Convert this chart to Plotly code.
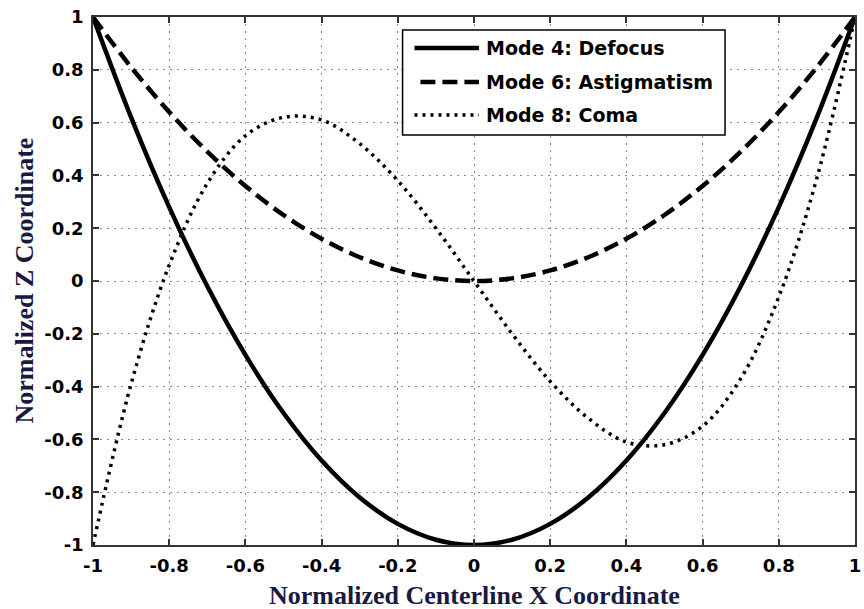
import plotly.graph_objects as go

# Normalized centerline profiles of three mirror modes
x_coord = [-1.0, -0.9, -0.8, -0.7, -0.6, -0.5, -0.4, -0.3, -0.2, -0.1, 0.0,
           0.1, 0.2, 0.3, 0.4, 0.5, 0.6, 0.7, 0.8, 0.9, 1.0]
defocus = [1.0, 0.62, 0.28, -0.02, -0.28, -0.5, -0.68, -0.82, -0.92, -0.98, -1.0,
           -0.98, -0.92, -0.82, -0.68, -0.5, -0.28, -0.02, 0.28, 0.62, 1.0]
astigmatism = [1.0, 0.81, 0.64, 0.49, 0.36, 0.25, 0.16, 0.09, 0.04, 0.01, 0.0,
               0.01, 0.04, 0.09, 0.16, 0.25, 0.36, 0.49, 0.64, 0.81, 1.0]
coma = [-1.0, -0.39, 0.06, 0.37, 0.55, 0.62, 0.61, 0.52, 0.38, 0.2, 0.0,
        -0.2, -0.38, -0.52, -0.61, -0.62, -0.55, -0.37, -0.06, 0.39, 1.0]

tick_vals = [-1, -0.8, -0.6, -0.4, -0.2, 0, 0.2, 0.4, 0.6, 0.8, 1]
tick_text = ["-1", "-0.8", "-0.6", "-0.4", "-0.2", "0", "0.2", "0.4", "0.6", "0.8", "1"]

series_names = ["Mode 4: Defocus", "Mode 6: Astigmatism", "Mode 8: Coma"]
series_dash = ["solid", "15px,7px", "3px,5px"]
series_width = [4.5, 4.5, 3.5]

W, H = 864, 609
L, R, T, B = 93, 861, 17, 545


def px(xp):
    return (xp - L) / (R - L)


def py(yp):
    return (B - yp) / (B - T)


fig = go.Figure()
for name, ys, dash, w in zip(series_names, [defocus, astigmatism, coma], series_dash, series_width):
    fig.add_trace(go.Scatter(
        x=x_coord, y=ys, mode="lines", name=name,
        line=dict(color="black", width=w, dash=dash, shape="spline", smoothing=1.0),
        showlegend=False,
    ))

tick_font = dict(family="DejaVu Sans", size=18, color="black", weight="bold")
axis_common = dict(
    range=[-1, 1], tickvals=tick_vals, ticktext=tick_text,
    ticks="inside", ticklen=6, tickwidth=1.5, tickcolor="#333333",
    showline=True, linecolor="#333333", linewidth=1.5, mirror="allticks",
    showgrid=True, gridcolor="#8a8a8a", gridwidth=1, griddash="2px,5px",
    zeroline=False, tickfont=tick_font, ticklabeloverflow="allow",
)
fig.update_xaxes(**axis_common, ticklabelstandoff=4)
fig.update_yaxes(**axis_common, ticklabelstandoff=4)

title_font = dict(family="Liberation Serif", size=26, color="#1a1a40", weight="bold")
annotations = [
    dict(text="Normalized Centerline X Coordinate", xref="paper", yref="paper",
         x=0.5, y=py(595), xanchor="center", yanchor="middle",
         showarrow=False, font=title_font),
    dict(text="Normalized Z Coordinate", xref="paper", yref="paper",
         x=px(23), y=0.5, xanchor="center", yanchor="middle", textangle=-90,
         showarrow=False, font=title_font),
]

# Hand-built legend box
shapes = [dict(type="rect", xref="paper", yref="paper",
               x0=px(405), x1=px(730), y0=py(135), y1=py(30),
               line=dict(color="black", width=1.5), fillcolor="white", layer="above")]
legend_font = dict(family="DejaVu Sans", size=19, color="black", weight="bold")
row_y = [48, 82, 115]
sample_x0 = [417, 423, 417]
for name, dash, w, ry, sx in zip(series_names, series_dash, series_width, row_y, sample_x0):
    shapes.append(dict(type="line", xref="paper", yref="paper",
                       x0=px(sx), x1=px(482), y0=py(ry), y1=py(ry),
                       line=dict(color="black", width=w, dash=dash), layer="above"))
    annotations.append(dict(text=name, xref="paper", yref="paper",
                            x=px(487), y=py(ry), xanchor="left", yanchor="middle",
                            showarrow=False, font=legend_font))

fig.update_layout(
    width=W, height=H,
    margin=dict(l=L, r=W - R, t=T, b=H - B),
    paper_bgcolor="white", plot_bgcolor="white",
    shapes=shapes, annotations=annotations,
    showlegend=False,
)

fig.write_html("out.html")
